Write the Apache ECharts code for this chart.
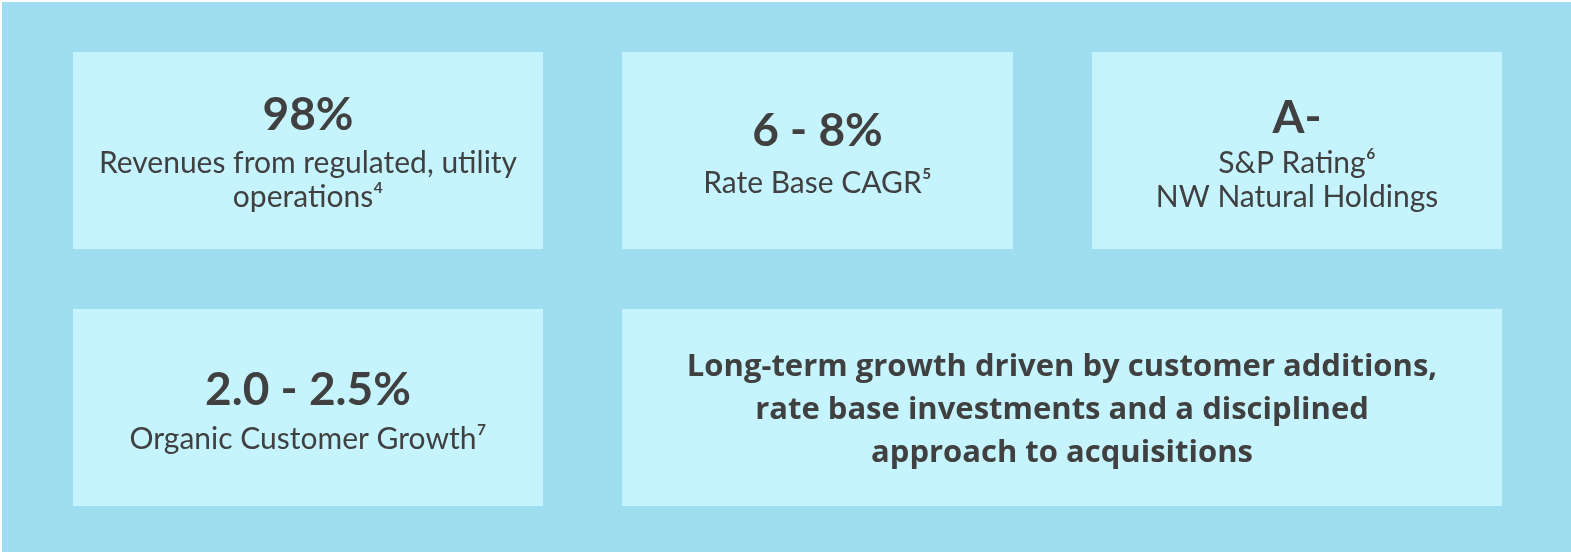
<!DOCTYPE html>
<html lang="en">
<head>
    <meta charset="utf-8">
    <title>NW Natural highlights</title>
    <script src="https://cdn.jsdelivr.net/npm/echarts@6/dist/echarts.min.js"></script>
    <style>
        html, body { margin: 0; padding: 0; background: #ffffff; }
        #main { width: 1571px; height: 552px; }
    </style>
</head>
<body>
<div id="main"></div>
<script type="text/javascript">
    // key figures, one per box
    var headlines = ['98%', '6 - 8%', 'A-', '2.0 - 2.5%'];
    var captions = [
        ['Revenues from regulated, utility', 'operations\u2074'],
        ['Rate Base CAGR\u2075'],
        ['S&P Rating\u2076', 'NW Natural Holdings'],
        ['Organic Customer Growth\u2077']
    ];
    var statement = [
        'Long-term growth driven by customer additions,',
        'rate base investments and a disciplined',
        'approach to acquisitions'
    ];

    // layout: box rectangles [x, y, w, h] and text line centres
    var boxes = [
        [73, 52, 470, 197],
        [622, 52, 391, 197],
        [1092, 52, 410, 197],
        [73, 309, 470, 197],
        [622, 309, 880, 197]
    ];
    var lineY = [
        [115, 163, 197],
        [131, 183],
        [118, 163, 197],
        [390, 439],
        [367, 410, 453]
    ];

    var FONT = 'Lato, "Liberation Sans", sans-serif';
    var FONT_BOLD = '"Open Sans", Lato, sans-serif';
    var INK = '#404040';

    var dom = document.getElementById('main');
    var myChart = echarts.init(dom, null, {renderer: 'canvas'});

    var elements = [{
        type: 'rect',
        shape: {x: 2, y: 2, width: 1571, height: 552},
        style: {fill: '#9fdef0'}
    }];

    boxes.forEach(function (b, i) {
        var cx = b[0] + b[2] / 2;
        elements.push({
            type: 'rect',
            shape: {x: b[0], y: b[1], width: b[2], height: b[3]},
            style: {fill: '#c6f4fe'}
        });
        var lines;
        if (i < headlines.length) {
            lines = [{t: headlines[i], font: 'bold 46px ' + FONT}];
            captions[i].forEach(function (c) {
                lines.push({t: c, font: 'normal 30px ' + FONT});
            });
        } else {
            lines = statement.map(function (s) {
                return {t: s, font: 'bold 31px ' + FONT_BOLD};
            });
        }
        lines.forEach(function (ln, k) {
            elements.push({
                type: 'text',
                x: cx,
                y: lineY[i][k],
                style: {
                    text: ln.t,
                    fill: INK,
                    font: ln.font,
                    textAlign: 'center',
                    textVerticalAlign: 'middle'
                }
            });
        });
    });

    var option = {
        animation: false,
        graphic: {elements: elements}
    };

    myChart.setOption(option);
    window.addEventListener('resize', myChart.resize);
</script>
</body>
</html>
